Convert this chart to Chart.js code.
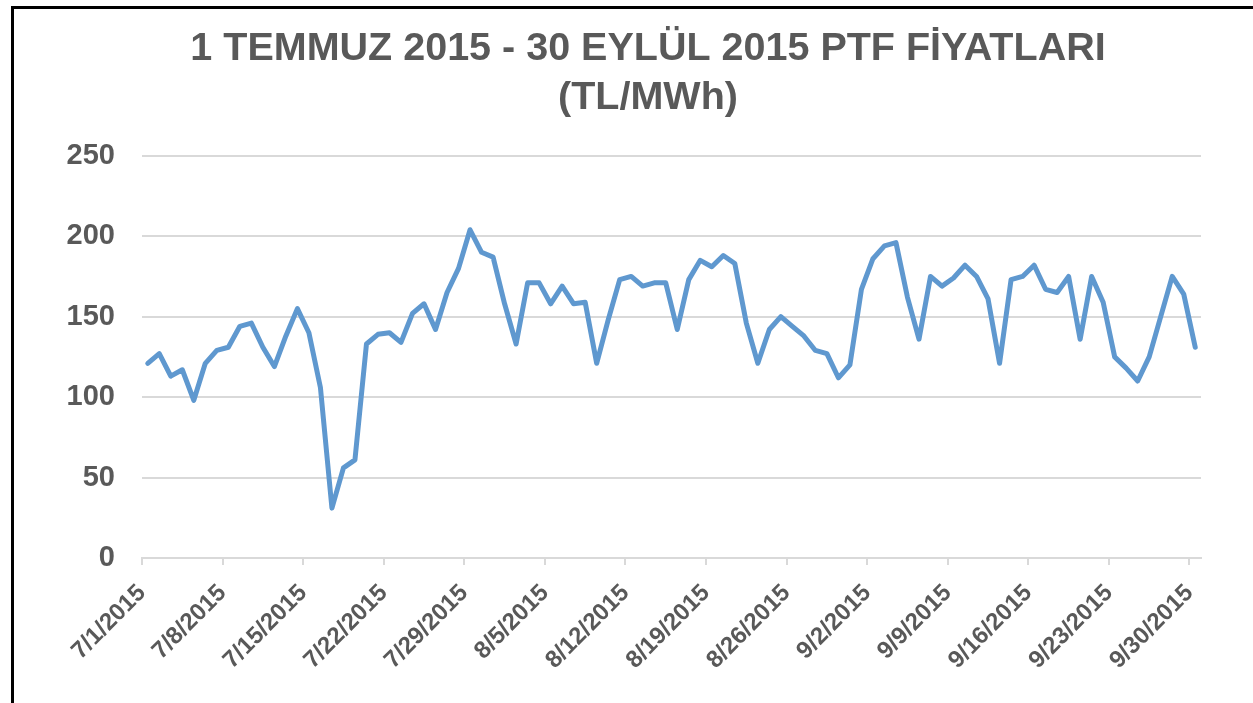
<!DOCTYPE html>
<html>
<head>
<meta charset="utf-8">
<script src="https://cdn.jsdelivr.net/npm/chart.js@4.4.1/dist/chart.umd.min.js"></script>
<style>
  body { margin: 0; background: #fff; }
  #wrap { position: relative; width: 1253px; height: 703px; overflow: hidden; }
  #frame {
    position: absolute; left: 11px; top: 6px; right: -10px; bottom: -10px;
    border-left: 3px solid #000; border-top: 3px solid #000;
    pointer-events: none;
  }
</style>
</head>
<body>
<div id="wrap">
  <canvas id="ptfChart" width="1253" height="703"></canvas>
  <div id="frame"></div>
</div>
<script>
// daily PTF prices, 7/1/2015 .. 9/30/2015 (index 0..91)
const titleLines = ['1 TEMMUZ 2015 - 30 EYLÜL 2015 PTF FİYATLARI', '(TL/MWh)']

const tickLabels = [
  '7/1/2015', '7/8/2015', '7/15/2015', '7/22/2015', '7/29/2015',
  '8/5/2015', '8/12/2015', '8/19/2015', '8/26/2015',
  '9/2/2015', '9/9/2015', '9/16/2015', '9/23/2015', '9/30/2015'
]

const julyValues = [
  121, 127, 113, 117, 98, 121, 129, 131, 144, 146,
  131, 119, 138, 155, 140, 106, 31, 56, 61, 133,
  139, 140, 134, 152, 158, 142, 165, 180, 204, 190,
  187
]
const augustValues = [
  158, 133, 171, 171, 158, 169, 158, 159, 121, 148,
  173, 175, 169, 171, 171, 142, 173, 185, 181, 188,
  183, 146, 121, 142, 150, 144, 138, 129, 127, 112,
  120
]
const septemberValues = [
  167, 186, 194, 196, 162, 136, 175, 169, 174, 182,
  175, 161, 121, 173, 175, 182, 167, 165, 175, 136,
  175, 159, 125, 118, 110, 125, 150, 175, 164, 131
]

const prices = julyValues.concat(augustValues, septemberValues)

const textColor = '#595959'
const gridColor = '#d9d9d9'
const fontFamily = "'Liberation Sans', Arial, sans-serif"

const ctx = document.getElementById('ptfChart')

new Chart(ctx, {
  type: 'line',
  data: {
    datasets: [
      {
        label: 'PTF',
        // each day sits in the middle of its slot, ticks mark the slot start
        data: prices.map((v, i) => ({ x: i + 0.5, y: v })),
        borderColor: '#5f98cf',
        borderWidth: 5,
        borderJoinStyle: 'round',
        borderCapStyle: 'round',
        pointRadius: 0,
        tension: 0,
        fill: false
      }
    ]
  },
  options: {
    responsive: false,
    animation: false,
    layout: {
      padding: { top: 8, left: 43, right: 0, bottom: 0 }
    },
    plugins: {
      legend: { display: false },
      tooltip: { enabled: false },
      title: {
        display: true,
        text: titleLines,
        color: textColor,
        font: { family: fontFamily, size: 39.5, weight: 'bold', lineHeight: 1.25 },
        padding: { top: 16, bottom: 33 }
      }
    },
    scales: {
      x: {
        type: 'linear',
        min: 0,
        max: prices.length,
        grid: {
          drawOnChartArea: false,
          drawTicks: true,
          tickLength: 7,
          color: gridColor,
          lineWidth: 2
        },
        border: { display: true, color: gridColor, width: 2 },
        ticks: {
          stepSize: 7,
          includeBounds: false,
          autoSkip: false,
          maxRotation: 45,
          minRotation: 45,
          padding: 14,
          color: textColor,
          font: { family: fontFamily, size: 24, weight: 'bold' },
          callback: function (value) {
            return tickLabels[value / 7]
          }
        },
        afterFit: function (scale) {
          scale.height = 145
        }
      },
      y: {
        min: 0,
        max: 250,
        grid: {
          drawTicks: false,
          color: gridColor,
          lineWidth: 2
        },
        border: { display: false },
        ticks: {
          stepSize: 50,
          padding: 27,
          color: textColor,
          font: { family: fontFamily, size: 29, weight: 'bold' }
        },
        afterFit: function (scale) {
          scale.width = 99
        }
      },
      yRight: {
        position: 'right',
        min: 0,
        max: 250,
        grid: { display: false },
        border: { display: false },
        ticks: { display: false },
        afterFit: function (scale) {
          scale.width = 52
        }
      }
    }
  }
})
</script>
</body>
</html>
